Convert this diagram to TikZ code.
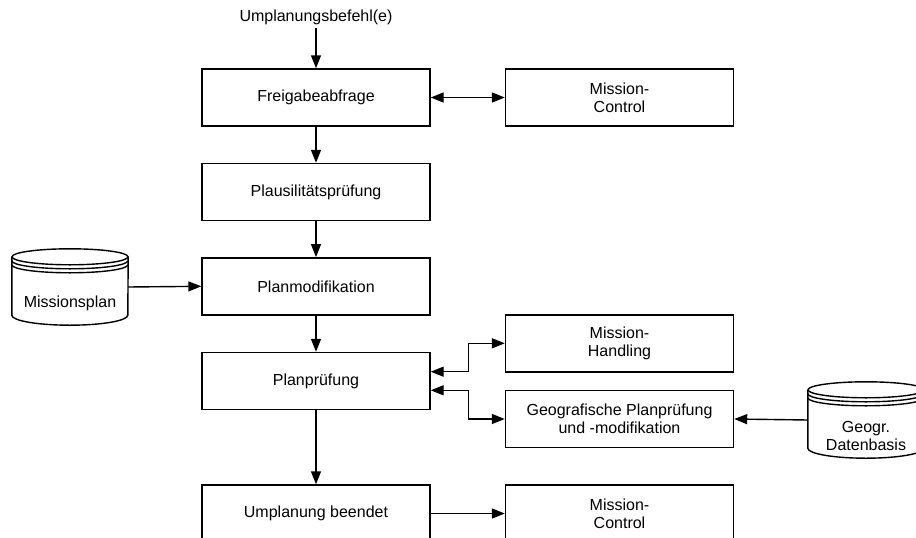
\documentclass[tikz,border=0pt]{standalone}
\usepackage{fontspec}
\setmainfont{Liberation Sans}
\usetikzlibrary{arrows.meta}

% Outline of a storage drum drawn around an (invisible) rectangular node
\newcommand\drumoutline[1]{%
  \draw[line] ([yshift=-8pt]#1.north) ellipse[x radius=58pt,y radius=8pt];
  \draw[line] ([yshift=-12pt]#1.north west) arc[start angle=180,end angle=360,x radius=58pt,y radius=8pt];
  \draw[line] ([yshift=-16pt]#1.north west) arc[start angle=180,end angle=360,x radius=58pt,y radius=8pt];
  \draw[line] ([yshift=-8pt]#1.north west) -- ([yshift=10pt]#1.south west)
    arc[start angle=180,end angle=360,x radius=58pt,y radius=10pt]
    -- ([yshift=-8pt]#1.north east);
}

\begin{document}
\begin{tikzpicture}[x=1pt,y=-1pt,
  line/.style={line width=1.4pt,draw=black},
  box/.style={line,rectangle,minimum width=228pt,minimum height=57pt,align=center,inner sep=0pt},
  flow/.style={line,-{Triangle[length=13pt,width=10pt]}},
  twoway/.style={line,{Triangle[length=13pt,width=10pt]}-{Triangle[length=13pt,width=10pt]}},
  drum/.style={rectangle,minimum width=116pt,minimum height=76pt,inner sep=0pt},
  every node/.style={font=\fontsize{16}{18.4}\selectfont}]

\fill[white] (0,0) rectangle (916,538);
\clip (0,0) rectangle (916,538);

% main column
\node (cmd) at (316,17) {Umplanungsbefehl(e)};
\node[box] (fa) at (316,97.5)  {Freigabeabfrage};
\node[box] (pl) at (316,192)   {Plausilitätsprüfung};
\node[box] (pm) at (316,286.3) {Planmodifikation};
\node[box] (pp) at (316,381)   {Planprüfung};
\node[box] (ub) at (316,513.5) {Umplanung beendet};

% right column
\node[box] (mc1) at (619.5,97.5)  {Mission-\\Control};
\node[box] (mh)  at (619.5,343.3) {Mission-\\Handling};
\node[box] (gp)  at (619.5,419)   {Geografische Planprüfung\\und -modifikation};
\node[box] (mc2) at (619.5,513.5) {Mission-\\Control};

% data stores
\node[drum] (mp) at (70,287) {};
\drumoutline{mp}
\node at ([yshift=-16pt]mp.center) {Missionsplan};

\node[drum] (gd) at (866,420) {};
\drumoutline{gd}
\node[align=center] at ([yshift=-16pt]gd.center) {Geogr.\\Datenbasis};

% connectors
\draw[flow] (cmd.south) -- (fa.north);
\draw[flow] (fa.south) -- (pl.north);
\draw[flow] (pl.south) -- (pm.north);
\draw[flow] (pm.south) -- (pp.north);
\draw[flow] (pp.south) -- (ub.north);
\draw[twoway] (fa.east) -- (mc1.west);
\draw[flow] (mp.east) -- (pm.west);
\draw[twoway] ([yshift=9.3pt]pp.east) -- ++(37.7,0) |- (mh.west);
\draw[twoway] ([yshift=-9.3pt]pp.east) -- ++(37.7,0) |- (gp.west);
\draw[flow] (gd.west) -- (gp.east);
\draw[flow] (ub.east) -- (mc2.west);
\end{tikzpicture}
\end{document}
